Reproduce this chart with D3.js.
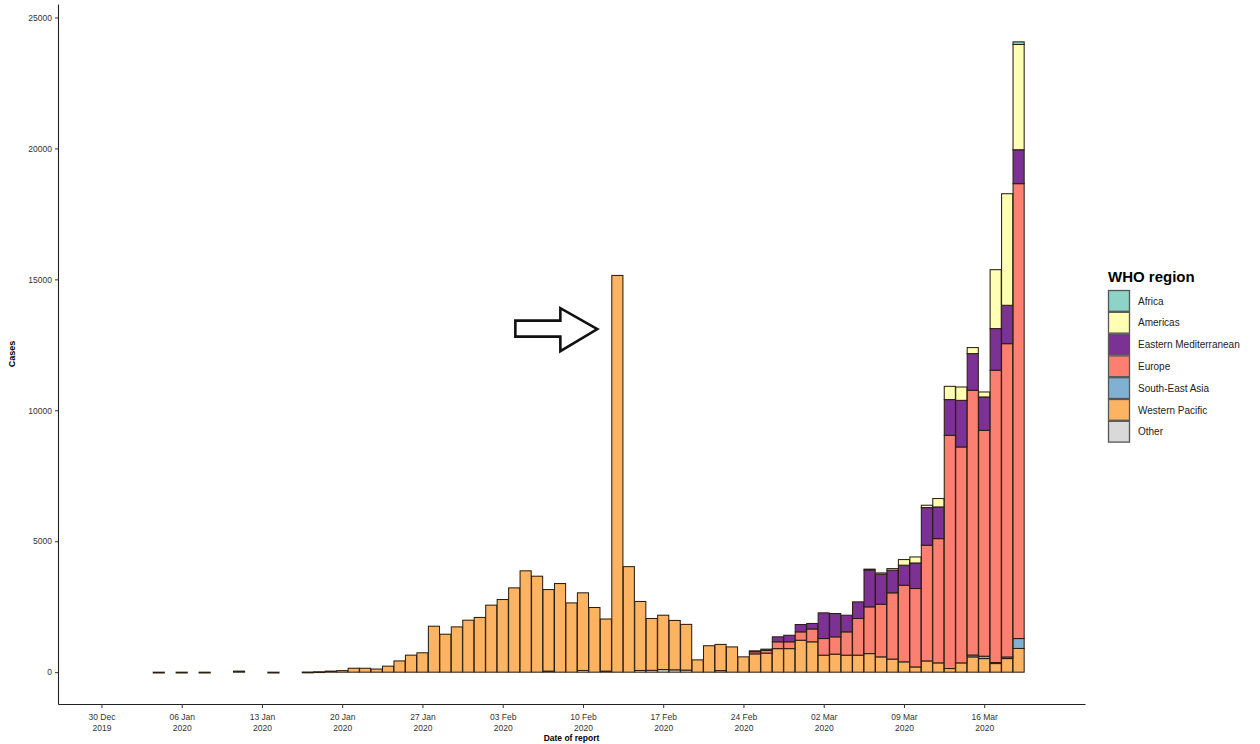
<!DOCTYPE html>
<html>
<head>
<meta charset="utf-8">
<script src="https://cdn.jsdelivr.net/npm/d3@7"></script>
<style>
  body { margin: 0; background: #fff; }
  svg { display: block; font-family: "Liberation Sans", Arial, sans-serif; }
</style>
</head>
<body>
<div id="chart"></div>
<script>
// Reported dates (bars)
var dates = [
  '2020-01-04', '2020-01-06', '2020-01-08', '2020-01-11', '2020-01-14',
  '2020-01-17', '2020-01-18', '2020-01-19', '2020-01-20', '2020-01-21', '2020-01-22', '2020-01-23',
  '2020-01-24', '2020-01-25', '2020-01-26', '2020-01-27', '2020-01-28', '2020-01-29', '2020-01-30', '2020-01-31',
  '2020-02-01', '2020-02-02', '2020-02-03', '2020-02-04', '2020-02-05', '2020-02-06', '2020-02-07',
  '2020-02-08', '2020-02-09', '2020-02-10', '2020-02-11', '2020-02-12', '2020-02-13', '2020-02-14',
  '2020-02-15', '2020-02-16', '2020-02-17', '2020-02-18', '2020-02-19', '2020-02-20', '2020-02-21',
  '2020-02-22', '2020-02-23', '2020-02-24', '2020-02-25', '2020-02-26', '2020-02-27', '2020-02-28', '2020-02-29',
  '2020-03-01', '2020-03-02', '2020-03-03', '2020-03-04', '2020-03-05', '2020-03-06', '2020-03-07',
  '2020-03-08', '2020-03-09', '2020-03-10', '2020-03-11', '2020-03-12', '2020-03-13', '2020-03-14',
  '2020-03-15', '2020-03-16', '2020-03-17', '2020-03-18', '2020-03-19'
]

var westernPacific = [
  0, 0, 0, 41, 0,
  5, 17, 40, 60, 150, 150, 120,
  230, 430, 650, 740, 1755, 1450, 1730, 1985,
  2090, 2560, 2775, 3220, 3870, 3665, 3115,
  3385, 2645, 2965, 2470, 1990, 15150, 4030,
  2635, 1980, 2075, 1885, 1745, 470, 1010,
  1000, 965, 585, 700, 730, 900, 900, 1220,
  1160, 650, 690, 650, 650, 710, 585,
  500, 395, 200, 430, 355, 140, 355,
  585, 520, 330, 520, 905
]

// Other regions, from 25 Feb to 19 Mar
var lateStart = '2020-02-25'
var europe = [80, 100, 260, 260, 320,
  490, 635, 660, 890, 1400, 1785, 2010, 2530, 2925, 2995, 4420, 4745, 8905, 8245, 10110, 8625, 11160, 11965, 17370]
var easternMed = [35, 50, 190, 250, 280,
  210, 980, 890, 635, 635, 1400, 1145, 865, 765, 975, 1435, 1210, 1365, 1780, 1400, 1275, 1590, 1465, 1295]
var americas = [0, 0, 0, 0, 0,
  0, 0, 0, 0, 0, 40, 50, 60, 215, 230, 90, 320, 505, 510, 230, 190, 2250, 4260, 4020]
var southEastAsia = [0, 0, 0, 0, 0,
  0, 0, 0, 0, 0, 0, 0, 0, 0, 0, 0, 0, 0, 0, 70, 90, 40, 60, 380]
var africa = [0, 0, 0, 0, 0,
  0, 0, 0, 0, 0, 0, 0, 0, 0, 0, 0, 0, 0, 0, 0, 0, 0, 0, 100]

// International conveyance etc.
var otherCases = [
  ['2020-02-07', 40], ['2020-02-10', 65], ['2020-02-12', 40], ['2020-02-15', 65],
  ['2020-02-16', 70], ['2020-02-17', 100], ['2020-02-18', 90], ['2020-02-19', 80], ['2020-02-22', 60]
]

var regions = ['Africa', 'Americas', 'Eastern Mediterranean', 'Europe', 'South-East Asia', 'Western Pacific', 'Other']
var colors = ['#8dd3c7', '#ffffb3', '#7b3294', '#fb8072', '#80b1d3', '#fdb462', '#d9d9d9']
var yTicks = [0, 5000, 10000, 15000, 20000, 25000]

var width = 1260
var height = 744

var parse = d3.timeParse('%Y-%m-%d')

// Build table
var lateIdx = dates.indexOf(lateStart)
var rows = dates.map(function (d, i) {
  var row = { date: parse(d) }
  regions.forEach(function (r) { row[r] = 0 })
  row['Western Pacific'] = westernPacific[i]
  if (i >= lateIdx) {
    var j = i - lateIdx
    row['Europe'] = europe[j]
    row['Eastern Mediterranean'] = easternMed[j]
    row['Americas'] = americas[j]
    row['South-East Asia'] = southEastAsia[j]
    row['Africa'] = africa[j]
  }
  return row
})
otherCases.forEach(function (o) {
  var i = dates.indexOf(o[0])
  if (i >= 0) rows[i]['Other'] = o[1]
})

// ggplot stacks first level on top
var stackKeys = regions.slice().reverse()
var series = d3.stack().keys(stackKeys)(rows)

var color = d3.scaleOrdinal().domain(regions).range(colors)

var x = d3.scaleTime()
  .domain([new Date(2019, 11, 26, 5), new Date(2020, 2, 24, 19)])
  .range([58, 1085])

var y = d3.scaleLinear()
  .domain([-1215, 25515])
  .range([704, 4])

var svg = d3.select('#chart')
  .append('svg')
  .attr('width', width)
  .attr('height', height)

var dayW = x(new Date(2020, 0, 2)) - x(new Date(2020, 0, 1))
var barW = dayW * 0.97

// Bars
var layer = svg.selectAll('.layer')
  .data(series)
  .enter()
  .append('g')
  .attr('class', 'layer')
  .style('fill', function (s) { return color(s.key) })

layer.selectAll('rect')
  .data(function (s) {
    return s.filter(function (d) {
      return s.key === 'Western Pacific' || d[1] - d[0] > 0
    })
  })
  .enter()
  .append('rect')
  .attr('x', function (d) { return x(d.data.date) - barW / 2 })
  .attr('width', barW)
  .attr('y', function (d) { return y(d[1]) })
  .attr('height', function (d) { return Math.max(0.8, y(d[0]) - y(d[1])) })
  .style('stroke', '#2a1f12')
  .style('stroke-width', 1.05)

// Axes
var tickDates = d3.timeMonday.range(new Date(2019, 11, 30), new Date(2020, 2, 17))

var xAxis = svg.append('g')
  .attr('transform', 'translate(0,704)')
  .call(d3.axisBottom(x).tickValues(tickDates).tickSize(4).tickSizeOuter(0).tickFormat(''))

xAxis.select('.domain').style('stroke', '#222').style('stroke-width', 1.1)
xAxis.selectAll('.tick line').style('stroke', '#333')

xAxis.selectAll('.tick')
  .append('text')
  .attr('fill', '#333')
  .attr('text-anchor', 'middle')
  .style('font-size', '8.5px')
  .each(function (d) {
    var t = d3.select(this)
    t.append('tspan').attr('x', 0).attr('y', 16).text(d3.timeFormat('%d %b')(d))
    t.append('tspan').attr('x', 0).attr('y', 27).text(d3.timeFormat('%Y')(d))
  })

var yAxis = svg.append('g')
  .attr('transform', 'translate(58,0)')
  .call(d3.axisLeft(y).tickValues(yTicks).tickSize(3).tickSizeOuter(0).tickFormat(d3.format('d')))

yAxis.select('.domain').style('stroke', '#222').style('stroke-width', 1.1)
yAxis.selectAll('.tick line').style('stroke', '#333')
yAxis.selectAll('.tick text')
  .attr('fill', '#333')
  .attr('x', -6)
  .style('font-size', '8.5px')

svg.append('text')
  .attr('transform', 'translate(15,' + (704 + 4) / 2 + ') rotate(-90)')
  .attr('text-anchor', 'middle')
  .style('font-size', '9px')
  .style('font-weight', 'bold')
  .text('Cases')

svg.append('text')
  .attr('x', (58 + 1085) / 2)
  .attr('y', 741)
  .attr('text-anchor', 'middle')
  .style('font-size', '8.5px')
  .style('font-weight', 'bold')
  .text('Date of report')

// Arrow pointing at the spike
var arrowDate = parse('2020-02-13')
var arrowValue = 13100
var tipX = x(arrowDate) - 20
var tipY = y(arrowValue)
svg.append('path')
  .attr('transform', 'translate(' + tipX + ',' + tipY + ')')
  .attr('d', 'M0,0 L-37,-21 L-37,-8.5 L-82,-8.5 L-82,7.5 L-37,7.5 L-37,22 Z')
  .style('fill', '#fff')
  .style('stroke', '#111')
  .style('stroke-width', 2.6)
  .style('stroke-linejoin', 'miter')

// Legend
var legend = svg.append('g').attr('transform', 'translate(1108,0)')

legend.append('text')
  .attr('x', 0)
  .attr('y', 282)
  .style('font-size', '15px')
  .style('font-weight', 'bold')
  .text('WHO region')

var keys = legend.selectAll('.key')
  .data(regions)
  .enter()
  .append('g')
  .attr('class', 'key')
  .attr('transform', function (d, i) { return 'translate(0,' + (290 + i * 21.8) + ')' })

keys.append('rect')
  .attr('x', 0.5)
  .attr('y', 0.5)
  .attr('width', 21)
  .attr('height', 20.8)
  .style('fill', function (d) { return color(d) })
  .style('stroke', '#555')
  .style('stroke-width', 1.3)

keys.append('text')
  .attr('x', 30)
  .attr('y', 11)
  .attr('dy', '0.35em')
  .attr('fill', '#222')
  .style('font-size', '10px')
  .text(function (d) { return d })
</script>
</body>
</html>
